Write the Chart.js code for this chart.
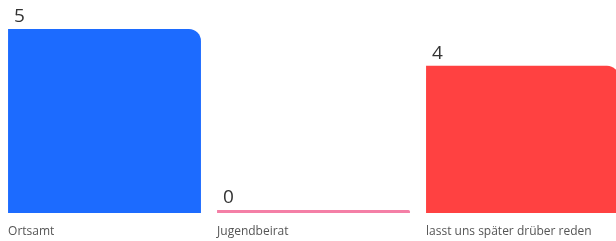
<!DOCTYPE html>
<html>
<head>
<meta charset="utf-8">
<script src="https://cdn.jsdelivr.net/npm/chart.js@4/dist/chart.umd.min.js"></script>
<style>
  html, body { margin: 0; padding: 0; background: #fff; overflow: hidden; }
  #wrap { width: 627px; height: 241px; position: relative; }
</style>
</head>
<body>
<div id="wrap"><canvas id="votes"></canvas></div>
<script>
var categories = ['Ortsamt', 'Jugendbeirat', 'lasst uns später drüber reden'];
var counts = [5, 0, 4];
var barColors = ['#1c6bff', '#f47fa6', '#ff4141'];

// value over each bar + category name under it, both left aligned to the bar
var barLabels = {
    id: 'barLabels',
    afterDatasetsDraw: function(chart) {
        var ctx = chart.ctx;
        var meta = chart.getDatasetMeta(0);
        ctx.save();
        meta.data.forEach(function(bar, i) {
            var left = bar.x - bar.width / 2;
            ctx.textAlign = 'left';
            ctx.textBaseline = 'alphabetic';
            ctx.fillStyle = '#333333';
            ctx.font = '19px "Open Sans", sans-serif';
            ctx.fillText(String(counts[i]), left + 6, bar.y - 7);
            ctx.fillStyle = '#555555';
            ctx.font = '12px "Open Sans", sans-serif';
            ctx.fillText(categories[i], left, chart.chartArea.bottom + 22);
        });
        ctx.restore();
    }
};

var ctx = document.getElementById('votes').getContext('2d');
var myBarChart = new Chart(ctx, {
    type: 'bar',
    data: {
        labels: categories,
        datasets: [{
            data: counts,
            backgroundColor: barColors,
            borderWidth: 0,
            borderRadius: { topLeft: 0, topRight: 12, bottomLeft: 0, bottomRight: 0 },
            borderSkipped: false,
            minBarLength: 3,
            barPercentage: 0.923,
            categoryPercentage: 1
        }]
    },
    options: {
        responsive: true,
        maintainAspectRatio: false,
        animation: false,
        layout: { padding: { top: 29, bottom: 28, left: 0, right: 0 } },
        plugins: {
            legend: { display: false },
            tooltip: { enabled: false }
        },
        scales: {
            x: { display: false },
            y: { display: false, min: 0, max: 5 }
        }
    },
    plugins: [barLabels]
});
</script>
</body>
</html>
